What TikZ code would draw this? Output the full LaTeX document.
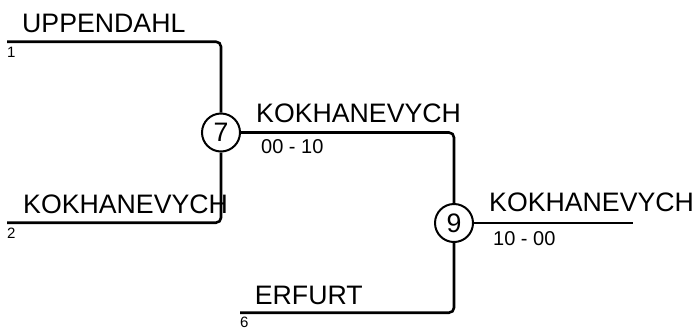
\documentclass[tikz,border=0pt]{standalone}
\usepackage{fontspec}
\setmainfont{Liberation Sans}
\begin{document}
\begin{tikzpicture}[x=1bp,y=-1bp,
  big/.style={font=\fontsize{26.7bp}{31bp}\selectfont,inner sep=0pt,anchor=base west},
  score/.style={font=\fontsize{20bp}{24bp}\selectfont,inner sep=0pt,anchor=base west},
  seed/.style={font=\fontsize{15bp}{17bp}\selectfont,inner sep=0pt,anchor=base west},
  match/.style={circle,draw,line width=2bp,minimum size=38bp,inner sep=0pt,font=\fontsize{26.7bp}{31bp}\selectfont},
  wire/.style={line width=2.6bp,rounded corners=5bp}]
\useasboundingbox (0,0) rectangle (698,329);
% matches
\node[match] (c7) at (221,132.5) {7};
\node[match] (c9) at (454,223) {9};
% free ends
\coordinate (s1) at (7,41.7);
\coordinate (s2) at (7,222.7);
\coordinate (s6) at (240,312.7);
\coordinate (e9) at (633,223);
% connectors
\draw[wire] (s1) -| (c7);
\draw[wire] (s2) -| (c7);
\draw[wire] (c7) -| (c9);
\draw[wire] (s6) -| (c9);
\draw[wire] (c9) -- (e9);
% labels
\node[big] (n1) at (22,32) {UPPENDAHL};
\node[seed] (k1) at (7,57.5) {1};
\node[big] (n2) at (23,213) {KOKHANEVYCH};
\node[seed] (k2) at (7,238.5) {2};
\node[big] (n7) at (256,122.7) {KOKHANEVYCH};
\node[score] (r7) at (261,153) {00 - 10};
\node[big] (n6) at (254.7,304) {ERFURT};
\node[seed] (k6) at (240,327.5) {6};
\node[big] (n9) at (489,211.7) {KOKHANEVYCH};
\node[score] (r9) at (493,245) {10 - 00};
\end{tikzpicture}
\end{document}
